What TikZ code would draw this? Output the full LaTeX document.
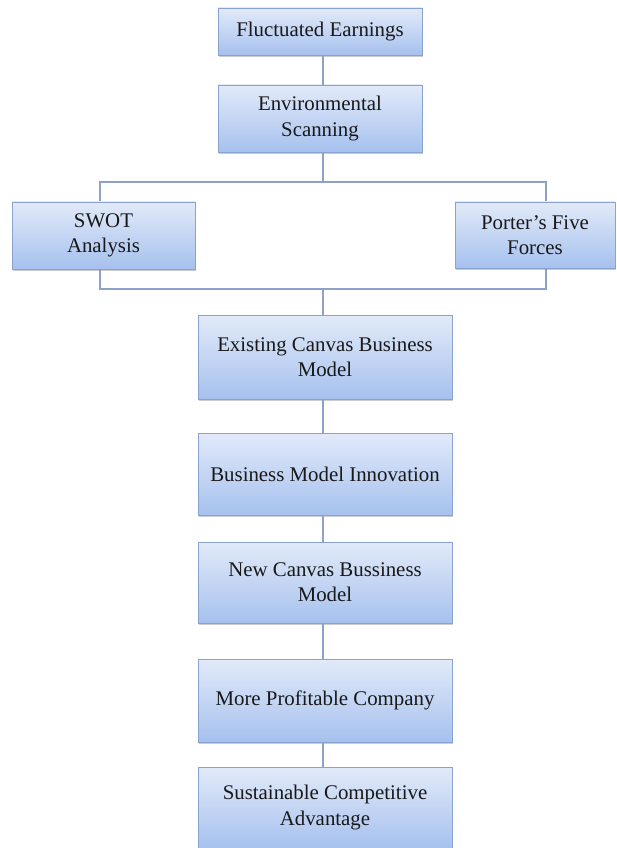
\documentclass[tikz,border=0pt]{standalone}
\usepackage{fontspec}
\setmainfont{Liberation Serif}
\usetikzlibrary{shadows}
\definecolor{boxtop}{HTML}{E2EAF9}
\definecolor{boxbot}{HTML}{A6C1EE}
\definecolor{boxline}{HTML}{88A3D0}
\definecolor{linkline}{HTML}{8CA2C6}
\tikzset{
  stage/.style={draw=boxline, line width=0.8pt, top color=boxtop, bottom color=boxbot,
    drop shadow={opacity=0.4, shadow xshift=0.6pt, shadow yshift=-1.8pt},
    align=center, inner sep=2pt, font=\fontsize{17.8}{21.5}\selectfont, text=black!90},
  link/.style={draw=linkline, line width=0.9pt}
}
\begin{document}
\begin{tikzpicture}[x=0.03cm, y=-0.03cm]
  \useasboundingbox (0,0) rectangle (616,848);
  \fill[white] (0,0) rectangle (616,848);
  \coordinate (brtl) at (100,182);
  \coordinate (brbr) at (546,289);
  \coordinate (brtop) at (323,182);
  \coordinate (brbot) at (323,289);
  \draw[link] (brtl) rectangle (brbr);
  \node[stage, minimum width=204*0.03cm, minimum height=47*0.03cm] (fluct) at (320,31.5) {Fluctuated Earnings};
  \node[stage, minimum width=204*0.03cm, minimum height=67*0.03cm] (env) at (320,118.5) {Environmental\\Scanning};
  \node[stage, minimum width=183*0.03cm, minimum height=67*0.03cm] (swot) at (103.5,235.5) {SWOT\\Analysis};
  \node[stage, minimum width=160*0.03cm, minimum height=66*0.03cm] (porter) at (535,235) {Porter’s Five\\Forces};
  \node[stage, minimum width=254*0.03cm, minimum height=84*0.03cm] (exist) at (325,357) {Existing Canvas Business\\Model};
  \node[stage, minimum width=254*0.03cm, minimum height=82*0.03cm] (bmi) at (325,474) {Business Model Innovation};
  \node[stage, minimum width=254*0.03cm, minimum height=81*0.03cm] (newc) at (325,582.5) {New Canvas Bussiness\\Model};
  \node[stage, minimum width=254*0.03cm, minimum height=83*0.03cm] (more) at (325,700.5) {More Profitable Company};
  \node[stage, minimum width=254*0.03cm, minimum height=81*0.03cm] (sust) at (325,807.5) {Sustainable Competitive\\Advantage};
  \draw[link] (fluct.south -| brtop) -- (env.north -| brtop);
  \draw[link] (env.south -| brtop) -- (brtop);
  \draw[link] (brbot) -- (exist.north -| brbot);
  \draw[link] (exist.south -| brbot) -- (bmi.north -| brbot);
  \draw[link] (bmi.south -| brbot) -- (newc.north -| brbot);
  \draw[link] (newc.south -| brbot) -- (more.north -| brbot);
  \draw[link] (more.south -| brbot) -- (sust.north -| brbot);
\end{tikzpicture}
\end{document}
